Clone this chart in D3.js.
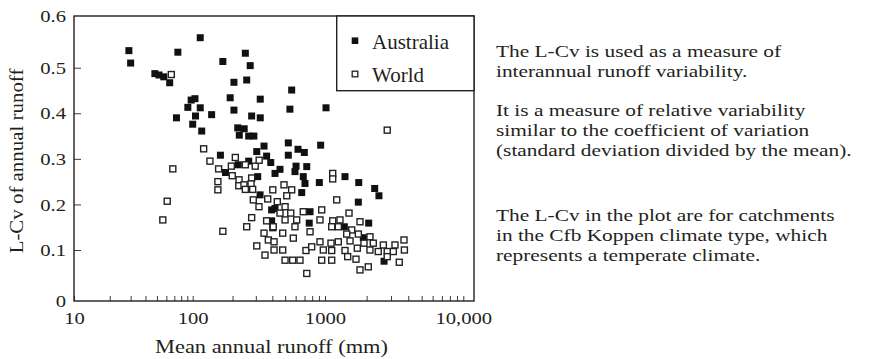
<!DOCTYPE html>
<html>
<head>
<meta charset="utf-8">
<script src="https://cdn.jsdelivr.net/npm/d3@7"></script>
<style>
  html, body { margin: 0; padding: 0; background: #fff; }
  svg { display: block; }
  text { font-family: "Liberation Serif", "Times New Roman", serif; fill: #231f20; }
</style>
</head>
<body>
<svg id="chart" width="869" height="359"></svg>
<script>
// Mean annual runoff (mm) and L-Cv of annual runoff, Cfb catchments
const australia = [
  [29, .533], [30, .509], [114, .558], [75, .530], [169, .512], [250, .528], [272, .504],
  [48, .487], [52, .484], [57, .480], [64, .467], [205, .468], [256, .473],
  [97, .429], [104, .432], [91, .413], [114, .412], [192, .434], [324, .431],
  [73, .390], [105, .394], [139, .397], [205, .407], [279, .394], [324, .390],
  [100, .376], [117, .361], [219, .368], [245, .366], [225, .352], [265, .350], [290, .350],
  [305, .316], [346, .328], [162, .308], [221, .287], [265, .295], [362, .306], [389, .292],
  [177, .270], [310, .261], [419, .268], [323, .221], [395, .188], [395, .164], [419, .191],
  [560, .451], [543, .409], [1017, .412], [927, .330], [528, .335], [528, .308], [625, .321],
  [698, .314], [457, .277], [604, .284], [728, .283], [593, .272], [685, .261], [706, .246],
  [906, .248], [1395, .261], [1754, .248], [667, .226], [2287, .235], [2455, .219],
  [1742, .205], [771, .184], [760, .159], [1380, .151], [2070, .159], [1892, .127], [2673, .078]
];
const world = [
  [66, .485], [121, .322], [68, .278], [135, .295], [157, .278], [210, .303], [196, .284],
  [250, .287], [297, .284], [318, .297], [199, .263], [224, .254], [279, .258], [155, .250],
  [155, .232], [223, .241], [244, .243], [276, .245], [250, .233], [284, .233], [403, .232],
  [287, .210], [317, .195], [369, .212], [61, .207], [56, .166], [279, .171], [256, .151],
  [169, .141], [362, .164], [403, .149], [346, .137], [373, .122], [305, .109], [412, .100],
  [352, .090], [2818, .363], [490, .243], [560, .232], [514, .219], [1137, .268], [1137, .256],
  [1215, .210], [1492, .181], [436, .206], [499, .195], [457, .181], [551, .181], [685, .184],
  [944, .188], [499, .166], [611, .166], [916, .166], [1137, .164], [1283, .166], [1791, .162],
  [406, .151], [593, .151], [1118, .151], [1248, .151], [1560, .144], [479, .137], [771, .140],
  [1435, .135], [1742, .135], [2114, .129], [412, .118], [576, .126], [916, .118], [1105, .115],
  [1248, .118], [1517, .120], [1914, .115], [2234, .115], [2642, .111], [3206, .111],
  [3725, .122], [3750, .100], [3119, .097], [479, .100], [718, .099], [793, .107], [971, .100],
  [1118, .099], [1395, .099], [1713, .104], [2114, .100], [2427, .097], [2818, .097],
  [499, .080], [570, .080], [647, .080], [944, .080], [1118, .080], [1459, .087], [1675, .082],
  [3444, .076], [1791, .061], [2056, .067], [728, .054], [2818, .087]
];

const xMajorTicks = [10, 100, 1000, 10000];
const xMajorLabels = ["10", "100", "1000", "10,000"];
const yTicks = [0, 0.1, 0.2, 0.3, 0.4, 0.5, 0.6];
const yTickLabels = ["0", "0.1", "0.2", "0.3", "0.4", "0.5", "0.6"];
const seriesNames = ["Australia", "World"];
const xTitle = "Mean annual runoff (mm)";
const yTitle = "L-Cv of annual runoff";
const notes = [
  ["The L-Cv is used as a measure of", "interannual runoff variability."],
  ["It is a measure of relative variability", "similar to the coefficient of variation", "(standard deviation divided by the mean)."],
  ["The L-Cv in the plot are for catchments", "in the Cfb Koppen climate type, which", "represents a temperate climate."]
];

const svg = d3.select("#chart");
const ink = "#231f20";
const frame = { left: 74, right: 474, top: 16, bottom: 301 };
const stretch = 1.18; // horizontal set width of the serif face

// Log axis, one segment per decade
const x = d3.scaleLog()
  .domain([10, 100, 1000, 10000])
  .range([74, 192.7, 325, 463.3]);
const y = d3.scaleLinear()
  .domain([0, 0.1, 0.5, 0.6])
  .range([301, 250, 67.7, 16]);

// x axis
const xLabel = new Map(xMajorTicks.map((v, i) => [v, xMajorLabels[i]]));
const gx = svg.append("g")
  .attr("transform", `translate(0,${frame.bottom})`)
  .call(d3.axisBottom(x)
    .tickValues(x.ticks())
    .tickSizeInner(-5).tickSizeOuter(0)
    .tickPadding(10.5)
    .tickFormat(d => xLabel.get(Math.round(d)) || ""));
gx.select(".domain").remove();
gx.selectAll(".tick line").attr("stroke", "#3a3a3a").attr("stroke-width", 1);
gx.selectAll(".tick text")
  .attr("font-size", 17.5)
  .attr("font-family", "Liberation Serif, serif")
  .attr("fill", ink)
  .attr("transform", `scale(${stretch},1)`);

// y axis
const yLabel = new Map(yTicks.map((v, i) => [v, yTickLabels[i]]));
const gy = svg.append("g")
  .attr("transform", `translate(${frame.left},0)`)
  .call(d3.axisLeft(y)
    .tickValues(yTicks)
    .tickSizeInner(-7).tickSizeOuter(0)
    .tickPadding(8)
    .tickFormat(d => yLabel.get(d)));
gy.select(".domain").remove();
gy.selectAll(".tick line").attr("stroke", "#3a3a3a").attr("stroke-width", 1)
  .filter(d => d === 0 || d === 0.6).remove();
gy.selectAll(".tick text")
  .attr("font-size", 17.5)
  .attr("font-family", "Liberation Serif, serif")
  .attr("fill", ink)
  .attr("x", -8 / stretch)
  .attr("transform", `scale(${stretch},1)`);

// plot frame
svg.append("rect")
  .attr("x", frame.left).attr("y", frame.top)
  .attr("width", frame.right - frame.left).attr("height", frame.bottom - frame.top)
  .attr("fill", "none").attr("stroke", ink).attr("stroke-width", 1.4);

// axis titles
svg.append("g")
  .attr("transform", `translate(${(158 + 385) / 2},353) scale(${stretch},1)`)
  .append("text")
  .attr("text-anchor", "middle").attr("font-size", 19)
  .text(xTitle);
svg.append("g")
  .attr("transform", `translate(23,161) rotate(-90) scale(1.1,1)`)
  .append("text")
  .attr("text-anchor", "middle").attr("font-size", 19)
  .text(yTitle);

// markers
const size = 7;
svg.append("g").selectAll("rect")
  .data(australia).join("rect")
  .attr("x", d => x(d[0]) - size / 2).attr("y", d => y(d[1]) - size / 2)
  .attr("width", size).attr("height", size)
  .attr("fill", "#111");
const osize = 6;
svg.append("g").selectAll("rect")
  .data(world).join("rect")
  .attr("x", d => x(d[0]) - osize / 2).attr("y", d => y(d[1]) - osize / 2)
  .attr("width", osize).attr("height", osize)
  .attr("fill", "#fff").attr("stroke", "#222").attr("stroke-width", 1.4);

// legend
const lg = svg.append("g");
lg.append("rect")
  .attr("x", 336.7).attr("y", frame.top)
  .attr("width", frame.right - 336.7).attr("height", 90.7 - frame.top)
  .attr("fill", "#fff").attr("stroke", ink).attr("stroke-width", 1.4);
seriesNames.forEach((name, i) => {
  const cy = 40.7 + i * 33.3;
  if (i === 0) {
    lg.append("rect").attr("x", 355 - 3.3).attr("y", cy - 3.3)
      .attr("width", 6.6).attr("height", 6.6).attr("fill", "#111");
  } else {
    lg.append("rect").attr("x", 355 - 2.8).attr("y", cy - 2.8)
      .attr("width", 5.6).attr("height", 5.6)
      .attr("fill", "#fff").attr("stroke", "#222").attr("stroke-width", 1.3);
  }
  lg.append("g").attr("transform", `translate(372,${cy + 8})`)
    .append("text").attr("font-size", 21).text(name);
});

// notes beside the chart
const paraTops = [57, 116, 221];
notes.forEach((lines, p) => {
  lines.forEach((line, k) => {
    svg.append("g")
      .attr("transform", `translate(496,${paraTops[p] + k * 20}) scale(1.22,1)`)
      .append("text").attr("font-size", 17.5).text(line);
  });
});
</script>
</body>
</html>
